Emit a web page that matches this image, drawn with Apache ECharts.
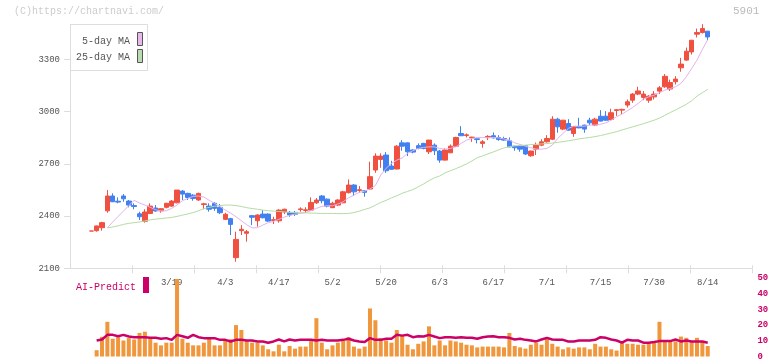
<!DOCTYPE html>
<html><head><meta charset="utf-8">
<script src="https://cdn.jsdelivr.net/npm/echarts@6/dist/echarts.min.js"></script>
<style>html,body{margin:0;padding:0;background:#fff}#c{width:772px;height:361px}</style>
</head><body><div id="c"></div><script>
const dates = [
'2/26','2/27','2/28','3/3','3/4','3/5','3/6','3/7','3/10','3/11',
'3/12','3/13','3/14','3/17','3/18','3/19','3/21','3/24','3/25','3/26',
'3/27','3/28','3/31','4/1','4/2','4/3','4/4','4/7','4/8','4/9',
'4/10','4/11','4/14','4/15','4/16','4/17','4/18','4/21','4/22','4/23',
'4/24','4/25','4/28','4/30','5/1','5/2','5/7','5/8','5/9','5/12',
'5/13','5/14','5/15','5/16','5/19','5/20','5/21','5/22','5/23','5/26',
'5/27','5/28','5/29','5/30','6/2','6/3','6/4','6/5','6/6','6/9',
'6/10','6/11','6/12','6/13','6/16','6/17','6/18','6/19','6/20','6/23',
'6/24','6/25','6/26','6/27','6/30','7/1','7/2','7/3','7/4','7/7',
'7/8','7/9','7/10','7/11','7/14','7/15','7/16','7/17','7/18','7/22',
'7/23','7/24','7/25','7/28','7/29','7/30','7/31','8/1','8/4','8/5',
'8/6','8/7','8/8','8/12','8/13','8/14'];
const opens = [
2314,2316,2333,2430,2515,2485,2515,2486,2460,2413,
2370,2415,2446,2430,2450,2457,2476,2543,2530,2520,
2492,2466,2457,2473,2450,2381,2385,2161,2316,2301,
2402,2373,2411,2411,2375,2373,2423,2421,2421,2437,
2432,2434,2476,2515,2497,2448,2463,2476,2534,2578,
2547,2545,2555,2664,2725,2750,2687,2670,2820,2820,
2779,2804,2817,2769,2807,2773,2721,2763,2801,2874,
2862,2849,2843,2817,2853,2861,2851,2845,2832,2801,
2801,2803,2746,2784,2807,2826,2841,2956,2899,2931,
2874,2914,2922,2950,2922,2973,2973,2954,3006,3008,
3037,3065,3100,3081,3065,3084,3117,3142,3129,3171,
3251,3295,3342,3444,3453,3461];
const closes = [
2314,2343,2362,2515,2482,2480,2499,2463,2455,2396,
2423,2457,2429,2442,2473,2486,2549,2526,2507,2501,
2530,2470,2439,2444,2419,2410,2352,2266,2324,2310,
2393,2406,2390,2371,2379,2434,2439,2406,2410,2441,
2436,2478,2492,2488,2457,2473,2492,2539,2578,2539,
2551,2536,2626,2744,2744,2660,2668,2801,2801,2769,
2767,2788,2788,2836,2775,2721,2779,2801,2851,2861,
2866,2853,2839,2826,2857,2849,2839,2836,2797,2792,
2784,2756,2773,2807,2826,2845,2956,2912,2950,2893,
2914,2906,2899,2935,2956,2945,2950,2993,3010,3012,
3056,3100,3118,3100,3088,3100,3136,3202,3166,3186,
3272,3346,3409,3453,3476,3428];
const lows = [
2314,2310,2316,2419,2480,2473,2482,2450,2439,2377,
2362,2411,2425,2419,2444,2453,2473,2492,2492,2488,
2488,2439,2425,2430,2411,2377,2291,2138,2291,2253,
2348,2339,2387,2367,2354,2362,2411,2396,2400,2425,
2419,2432,2469,2473,2450,2446,2457,2473,2530,2515,
2534,2511,2549,2648,2677,2648,2666,2668,2775,2744,
2760,2783,2783,2756,2750,2706,2719,2761,2799,2859,
2851,2826,2817,2792,2836,2845,2832,2832,2795,2775,
2769,2750,2740,2750,2801,2822,2836,2878,2893,2891,
2855,2904,2878,2922,2916,2943,2948,2952,2975,2985,
3023,3050,3094,3065,3050,3069,3100,3136,3118,3155,
3228,3291,3327,3425,3448,3409];
const highs = [
2314,2345,2367,2549,2530,2507,2526,2492,2473,2425,
2439,2473,2463,2444,2476,2492,2549,2549,2534,2526,
2534,2476,2473,2480,2469,2419,2390,2310,2348,2320,
2406,2410,2434,2415,2396,2439,2442,2429,2429,2450,
2450,2507,2503,2520,2501,2482,2496,2545,2610,2583,
2572,2549,2712,2760,2760,2767,2717,2807,2836,2822,
2783,2817,2820,2836,2817,2779,2788,2811,2855,2916,
2874,2855,2845,2836,2864,2880,2864,2855,2851,2803,
2807,2805,2775,2822,2841,2864,2973,2964,2952,2956,
2916,2964,2924,2964,2964,3008,3002,3016,3012,3016,
3069,3106,3142,3118,3094,3117,3146,3215,3183,3203,
3308,3367,3411,3476,3501,3463];
const ma5 = [
null,null,null,2333,2366,2398,2428,2460,2490,2475,
2463,2450,2436,2429,2430,2444,2463,2488,2501,2513,
2515,2509,2490,2473,2455,2434,2417,2396,2373,2350,
2332,2333,2348,2362,2369,2381,2394,2404,2411,2415,
2421,2431,2444,2455,2459,2459,2469,2482,2505,2520,
2536,2543,2555,2575,2635,2674,2702,2721,2733,2760,
2775,2788,2794,2797,2797,2788,2784,2788,2797,2817,
2836,2845,2851,2851,2849,2851,2849,2842,2836,2820,
2811,2801,2792,2784,2784,2788,2807,2845,2874,2903,
2916,2916,2916,2922,2922,2927,2935,2950,2970,2985,
3004,3023,3046,3071,3084,3094,3107,3123,3132,3142,
3161,3199,3247,3295,3356,3413];
const ma25 = [
null,null,null,2332,2337,2344,2352,2358,2362,2366,
2372,2378,2382,2385,2389,2392,2398,2405,2412,2420,
2430,2442,2450,2456,2460,2463,2463,2460,2455,2448,
2443,2439,2434,2431,2428,2426,2424,2421,2420,2419,
2418,2417,2416,2415,2415,2415,2414,2414,2415,2420,
2428,2438,2447,2462,2478,2490,2504,2516,2531,2541,
2552,2568,2584,2603,2619,2630,2648,2660,2672,2685,
2699,2716,2735,2745,2757,2768,2780,2791,2798,2803,
2805,2807,2810,2812,2814,2816,2819,2823,2827,2832,
2837,2843,2847,2851,2856,2862,2869,2877,2884,2894,
2903,2912,2921,2930,2940,2950,2962,2978,2994,3009,
3025,3041,3062,3088,3108,3127];
const volume = [
null,4.0,12.5,22.1,11.3,12.3,10.2,11.7,10.8,15.0,
15.8,11.3,8.8,7.1,8.8,8.8,49.4,11.3,8.8,7.1,
7.1,8.8,11.3,7.1,7.1,10.2,11.0,20.0,16.9,10.2,
8.8,8.8,7.1,4.6,3.3,7.5,3.3,6.7,5.0,6.3,
6.3,10.2,24.4,8.8,4.6,7.1,8.8,10.2,12.3,6.3,
5.0,6.3,30.6,23.1,11.7,10.2,8.8,16.9,13.8,7.5,
4.6,8.1,9.6,19.2,7.1,10.2,7.1,10.2,9.6,8.8,
7.5,7.1,5.8,6.3,6.3,6.3,6.3,5.8,15.0,6.7,
5.8,5.0,7.5,8.8,7.5,11.3,8.1,6.3,4.6,5.8,
5.0,5.8,5.8,4.6,8.1,6.3,6.3,4.6,3.8,9.6,
8.1,8.1,7.5,7.5,8.8,8.8,22.1,9.6,9.6,9.6,
12.7,11.9,9.6,11.9,9.6,6.7];
const aiPredict = [
null,10.2,10.8,13.8,13.8,12.9,13.8,12.7,12.3,12.3,
12.3,11.9,11.9,11.3,11.7,10.6,13.8,12.9,11.9,13.8,
12.3,11.7,11.7,11.7,10.6,10.6,9.6,10.6,10.6,10.2,
10.2,9.6,9.6,8.8,9.6,10.8,9.6,10.8,10.2,10.6,
10.6,10.6,10.2,10.6,10.2,10.2,10.2,10.6,11.3,10.2,
9.6,9.2,11.7,10.6,10.6,11.3,11.3,13.8,13.3,13.8,
12.3,12.9,12.7,13.8,12.7,11.7,12.3,12.3,11.9,12.3,
11.9,11.9,11.3,12.3,12.7,12.9,12.3,12.3,11.9,10.8,
11.3,10.6,10.2,9.6,10.8,11.9,10.8,10.6,10.6,9.6,
9.6,10.2,10.2,10.2,10.6,12.3,11.9,10.8,10.2,8.8,
10.6,10.2,10.2,8.8,8.8,9.2,9.8,9.8,9.8,10.8,
9.6,10.2,9.6,9.6,9.6,8.8];
const priceTicks = [2100,2400,2700,3000,3300];
const frameTicks = [1,2,3,4,5,6,7,8,9,10,11];

const FONT = 'Liberation Mono';
const candleData = dates.map((d,i)=>[opens[i],closes[i],lows[i],highs[i]]);
const chart = echarts.init(document.getElementById('c'), null, {renderer:'canvas'});
chart.setOption({
  animation:false,
  backgroundColor:'#fff',
  grid:[
    {left:70, top:24.4, width:682, height:243.9},
    {left:88.6, top:24.4, width:621.8, height:243.9},
    {left:88.6, top:278, width:621.8, height:80}
  ],
  xAxis:[
    {gridIndex:0, type:'value', min:0, max:11, position:'bottom',
     axisLine:{show:true, lineStyle:{color:'#ddd', width:1}},
     axisTick:{show:true, customValues:frameTicks, length:5, lineStyle:{color:'#ddd'}},
     axisLabel:{show:false}, splitLine:{show:false}},
    {gridIndex:0, type:'value', min:0, max:11, position:'bottom', offset:0,
     axisLine:{show:false},
     axisTick:{show:true, inside:true, customValues:frameTicks, length:3, lineStyle:{color:'#ddd'}},
     axisLabel:{show:false}, splitLine:{show:false}},
    {gridIndex:1, type:'category', data:dates, boundaryGap:true, position:'bottom',
     axisLine:{show:false}, axisTick:{show:false}, splitLine:{show:false},
     axisLabel:{interval:(idx)=>idx>=15 && idx%10===5, color:'#555', fontSize:9, fontFamily:FONT, margin:10}},
    {gridIndex:2, type:'category', data:dates, boundaryGap:true, show:false}
  ],
  yAxis:[
    {gridIndex:0, type:'value', min:2100, max:3500,
     axisLine:{show:true, lineStyle:{color:'#ddd'}},
     axisTick:{show:true, customValues:priceTicks, length:6, lineStyle:{color:'#ddd'}},
     axisLabel:{customValues:priceTicks, formatter:(v)=>String(v), color:'#555', fontSize:9, fontFamily:FONT, margin:10},
     splitLine:{show:false}},
    {gridIndex:1, type:'value', min:2100, max:3500, show:false},
    {gridIndex:2, type:'value', min:0, max:50, interval:10, position:'right',
     axisLine:{show:false}, axisTick:{show:false}, splitLine:{show:false},
     axisLabel:{color:'#cc0066', fontSize:9, fontFamily:FONT, fontWeight:'bold', margin:47}}
  ],
  series:[
    {type:'candlestick', xAxisIndex:2, yAxisIndex:1, data:candleData, barWidth:5, clip:false,
     itemStyle:{color:'#f05040', color0:'#4080f0', borderColor:'#f05040', borderColor0:'#4080f0', borderColorDoji:'#f05040', borderWidth:1}},
    {type:'line', xAxisIndex:2, yAxisIndex:1, data:ma5, showSymbol:false, symbol:'none',
     lineStyle:{color:'#e4b2ec', width:1}},
    {type:'line', xAxisIndex:2, yAxisIndex:1, data:ma25, showSymbol:false, symbol:'none',
     lineStyle:{color:'#b4dca4', width:1}},
    {type:'bar', xAxisIndex:3, yAxisIndex:2, data:volume, barWidth:4,
     itemStyle:{color:'#f0963c'}},
    {type:'line', xAxisIndex:3, yAxisIndex:2, data:aiPredict, showSymbol:false, symbol:'none',
     lineStyle:{color:'#cc0066', width:2.5}}
  ],
  graphic:[
    {type:'text', left:14, top:6, style:{text:'(C)https://chartnavi.com/', fill:'#ccc', font:'10px "Liberation Mono"'}},
    {type:'text', left:733, top:6, style:{text:'5901', fill:'#bbb', font:'11px "Liberation Mono"'}},
    {type:'rect', shape:{x:70.5, y:24.5, width:77, height:46}, style:{fill:'#fff', stroke:'#ddd', lineWidth:1}, z:10},
    {type:'text', x:130, y:41, style:{text:'5-day MA', fill:'#555', font:'10px "Liberation Mono"', align:'right', verticalAlign:'middle'}, z:11},
    {type:'text', x:130, y:57, style:{text:'25-day MA', fill:'#555', font:'10px "Liberation Mono"', align:'right', verticalAlign:'middle'}, z:11},
    {type:'rect', shape:{x:137.5, y:32.5, width:5, height:13}, style:{fill:'#e8b8ec', stroke:'#555', lineWidth:1}, z:11},
    {type:'rect', shape:{x:137.5, y:49.5, width:5, height:13}, style:{fill:'#b8dcb0', stroke:'#555', lineWidth:1}, z:11},
    {type:'text', x:76, y:287, style:{text:'AI-Predict', fill:'#cc0066', font:'10px "Liberation Mono"', verticalAlign:'middle'}},
    {type:'rect', shape:{x:143, y:277, width:6, height:16}, style:{fill:'#cc0066'}}
  ]
});
</script></body></html>
